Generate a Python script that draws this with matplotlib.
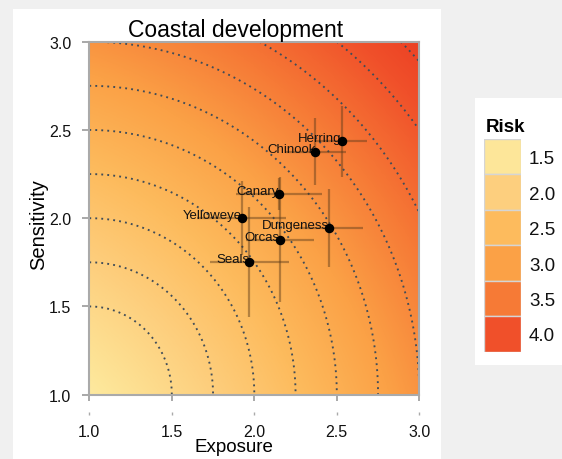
import numpy as np
import matplotlib
matplotlib.use("Agg")
import matplotlib.pyplot as plt
from matplotlib.colors import LinearSegmentedColormap, Normalize
from matplotlib.patches import Rectangle

plt.rcParams['font.family'] = ['Liberation Sans', 'DejaVu Sans']

# --- data ---
species = ['Herring', 'Chinook', 'Canary', 'Yelloweye', 'Dungeness', 'Orcas', 'Seals']
exposure = [2.53, 2.37, 2.15, 1.925, 2.455, 2.155, 1.97]
sensitivity = [2.435, 2.377, 2.135, 2.003, 1.943, 1.878, 1.752]
exposure_err = [0.155, 0.185, 0.26, 0.27, 0.205, 0.205, 0.24]
sensitivity_err = [0.20, 0.19, 0.09, 0.21, 0.22, 0.355, 0.31]

risk_levels = [1.5, 2.0, 2.5, 3.0, 3.5, 4.0]
risk_colors = ['#FDE699', '#FDCF7E', '#FDBB5D', '#FBA146', '#F67A36', '#F0502A']
contour_radii = [0.5, 0.75, 1.0, 1.25, 1.5, 1.75, 2.0, 2.25, 2.5, 2.75]
ticks = [1.0, 1.5, 2.0, 2.5, 3.0]

W, H = 562, 460
fig = plt.figure(figsize=(W / 100, H / 100), dpi=100, facecolor='#F0F0F0')

# white panels behind plot and legend
fig.patches.append(Rectangle((13 / W, 0), (441 - 13) / W, (H - 10) / H,
                             transform=fig.transFigure, facecolor='white', zorder=-10))
fig.patches.append(Rectangle((475 / W, 1 - 366 / H), (W - 475) / W, (366 - 99) / H,
                             transform=fig.transFigure, facecolor='white', zorder=-10))

ax = fig.add_axes([89.3 / W, 1 - 395.7 / H, 330 / W, 353 / H])

# risk surface
g = np.linspace(1, 3, 300)
E, S = np.meshgrid(g, g)
risk = np.hypot(E, S)
nodes = [1.41] + risk_levels + [4.25]
cols = ['#FEE9A0'] + risk_colors + ['#EC4124']
norm = Normalize(vmin=nodes[0], vmax=nodes[-1])
cmap = LinearSegmentedColormap.from_list('risk', list(zip([norm(v) for v in nodes], cols)))
ax.imshow(risk, extent=(1, 3, 1, 3), origin='lower', aspect='auto', cmap=cmap, norm=norm, zorder=0)

# dotted distance contours
ax.contour(E, S, np.hypot(E - 1, S - 1), levels=contour_radii, colors='#3F4C58',
           linewidths=1.35, linestyles=[(0, (1, 2.2))], zorder=1)

ax.errorbar(exposure, sensitivity, xerr=exposure_err, yerr=sensitivity_err, fmt='none',
            ecolor='#5A3A1A', alpha=0.45, elinewidth=1.6, capsize=0, zorder=2)
for name, x, y in zip(species, exposure, sensitivity):
    ax.text(x, y, name, ha='right', va='baseline', fontsize=9.5, color='#111111', zorder=3)
ax.scatter(exposure, sensitivity, s=34, color='black', zorder=4)

ax.set_xlim(1, 3)
ax.set_ylim(1, 3)
ax.set_xticks(ticks)
ax.set_yticks(ticks)
ax.set_xticklabels([f'{t:.1f}' for t in ticks])
ax.set_yticklabels([f'{t:.1f}' for t in ticks])
ax.tick_params(axis='x', length=4.5, width=1.2, color='#999999', pad=16.5, labelsize=11.5, labelcolor='#111111')
ax.tick_params(axis='y', length=5, width=1.2, color='#999999', pad=8, labelsize=11.5, labelcolor='#111111')
for sp in ax.spines.values():
    sp.set_color('#AAAAAA')
    sp.set_linewidth(1.5)

# faint secondary tick marks below the axis
sec = ax.secondary_xaxis(-0.05)
sec.set_xticks(ticks)
sec.set_xticklabels([])
sec.tick_params(length=2, width=1, color='#AAAAAA')
sec.spines['bottom'].set_visible(False)

fig.text(235.5 / W, 1 - 37 / H, 'Coastal development', ha='center', va='baseline', fontsize=16.5)
fig.text(234 / W, 1 - 452 / H, 'Exposure', ha='center', va='baseline', fontsize=13.5)
fig.text(39 / W, 1 - 225 / H, 'Sensitivity', ha='center', va='center', rotation=90, fontsize=14.5)

# legend
lx = fig.add_axes([484 / W, 1 - 352.7 / H, 36.7 / W, 212.7 / H])
lx.barh(range(len(risk_levels)), 1, height=1, color=risk_colors, edgecolor='#D5D5D5', linewidth=1)
lx.set_ylim(len(risk_levels) - 0.5, -0.5)
lx.set_xlim(0, 1)
lx.set_xticks([])
lx.yaxis.tick_right()
lx.set_yticks(range(len(risk_levels)))
lx.set_yticklabels([f'{v:.1f}' for v in risk_levels])
lx.tick_params(axis='y', length=0, pad=6, labelsize=13.5, labelcolor='#111111')
for sp in lx.spines.values():
    sp.set_visible(False)
fig.text(486 / W, 1 - 131.7 / H, 'Risk', ha='left', va='baseline', fontsize=13.5, fontweight='bold')

fig.savefig('out.png', dpi=100, facecolor=fig.get_facecolor())
